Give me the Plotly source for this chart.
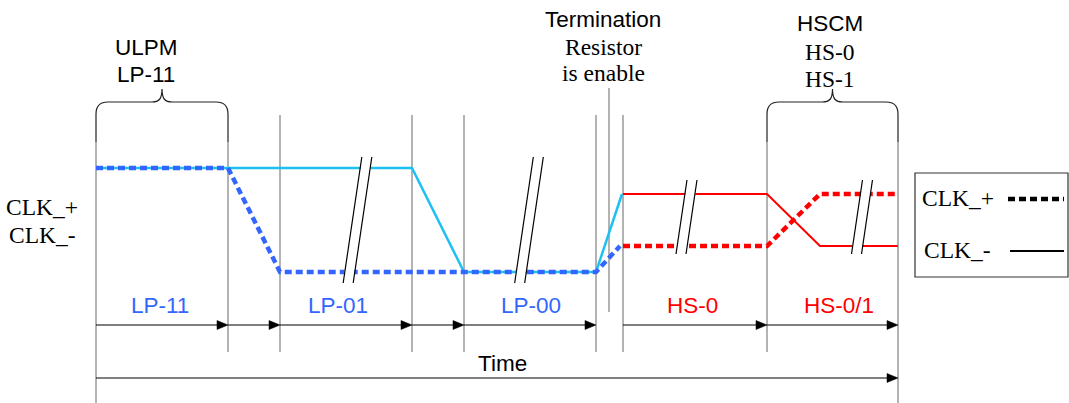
import plotly.graph_objects as go

# ---------------- data ----------------
# time positions (horizontal units) of the state boundaries
state_bounds = [96, 228, 280, 412, 464, 596, 623, 767, 898]
termination_t = 609

# signal traces: time / level (vertical units, top = 0)
cyan_t = [96, 412, 464, 596, 622]
cyan_v = [168, 168, 272, 272, 194]
blue_t = [96, 228, 280, 596, 620]
blue_v = [168, 168, 272, 272, 246]
red_solid_t = [623, 767, 820, 898]
red_solid_v = [194, 194, 246, 246]
red_dash_t = [623, 767, 820, 898]
red_dash_v = [246, 246, 194, 194]

# section labels
section_labels = ["LP-11", "LP-01", "LP-00", "HS-0", "HS-0/1"]
section_label_t = [160, 338, 531, 692, 839]
section_is_hs = [False, False, False, True, True]

# arrow segments on the state row
arrow_start = [96, 228, 280, 412, 464, 623, 767]
arrow_end = [228, 280, 412, 464, 596, 767, 898]

# break marks "//"
break_t = [357.5, 529, 686.5, 862]
break_top = [157, 157, 180, 180]
break_bottom = [283, 283, 254, 254]

# vertical guide lines: time, top, bottom
guide_t = [96, 228, 280, 412, 464, 596, 609, 623, 767, 898]
guide_top = [142, 142, 115, 115, 115, 115, 88, 115, 142, 142]
guide_bottom = [403, 352, 352, 352, 352, 352, 312, 352, 352, 403]

BLUE = "#3366FF"
CYAN = "#1CC0F2"
RED = "#FF0000"
GRAY = "#9A9A9A"
ARIAL = "Arial, Liberation Sans, sans-serif"
TIMES = "Times New Roman, Liberation Serif, serif"
ARIAL_SIZE = 22.5
TIMES_SIZE = 23.5

ROW_Y = 325
TIME_Y = 378
LABEL_Y = 305

fig = go.Figure()

# signals
fig.add_trace(go.Scatter(x=cyan_t, y=cyan_v, mode="lines",
                         line=dict(color=CYAN, width=2.5), hoverinfo="skip"))
fig.add_trace(go.Scatter(x=blue_t, y=blue_v, mode="lines",
                         line=dict(color=BLUE, width=4.5, dash="7px,4px"), hoverinfo="skip"))
fig.add_trace(go.Scatter(x=red_solid_t, y=red_solid_v, mode="lines",
                         line=dict(color=RED, width=2), hoverinfo="skip"))
fig.add_trace(go.Scatter(x=red_dash_t, y=red_dash_v, mode="lines",
                         line=dict(color=RED, width=4.5, dash="7px,4px"), hoverinfo="skip"))

shapes = []

# vertical guide lines
for t, top, bot in zip(guide_t, guide_top, guide_bottom):
    shapes.append(dict(type="line", x0=t, x1=t, y0=top, y1=bot, layer="below",
                       line=dict(color=GRAY, width=1.5)))


def brace(x0, x1, ytop, ypeak, yside):
    xm = (x0 + x1) / 2
    r = 12
    return (f"M {x0},{yside} L {x0},{ytop + r} Q {x0},{ytop} {x0 + r},{ytop} "
            f"L {xm - 10},{ytop} C {xm - 3},{ytop} {xm},{ytop - 3} {xm},{ypeak} "
            f"C {xm},{ytop - 3} {xm + 3},{ytop} {xm + 10},{ytop} "
            f"L {x1 - r},{ytop} Q {x1},{ytop} {x1},{ytop + r} L {x1},{yside}")


shapes.append(dict(type="path", path=brace(96, 228, 102, 89, 142),
                   line=dict(color="#222222", width=1.2)))
shapes.append(dict(type="path", path=brace(767, 898, 102, 89, 142),
                   line=dict(color="#222222", width=1.2)))

# arrows on the state row
for a, b in zip(arrow_start, arrow_end):
    shapes.append(dict(type="line", x0=a, x1=b - 2, y0=ROW_Y, y1=ROW_Y,
                       line=dict(color="black", width=1.2)))
    shapes.append(dict(type="path", path=f"M {b},{ROW_Y} L {b - 11},{ROW_Y - 4.5} L {b - 11},{ROW_Y + 4.5} Z",
                       fillcolor="black", line=dict(color="black", width=0.5)))

# time arrow
t0, t1 = state_bounds[0], state_bounds[-1]
shapes.append(dict(type="line", x0=t0, x1=t1 - 2, y0=TIME_Y, y1=TIME_Y,
                   line=dict(color="black", width=1.2)))
shapes.append(dict(type="path", path=f"M {t1},{TIME_Y} L {t1 - 11},{TIME_Y - 4.5} L {t1 - 11},{TIME_Y + 4.5} Z",
                   fillcolor="black", line=dict(color="black", width=0.5)))

# break marks
SLOPE = 0.148
GAP = 10
for c, top, bot in zip(break_t, break_top, break_bottom):
    mid = (top + bot) / 2
    xl_top = c - GAP / 2 + SLOPE * (mid - top)
    xl_bot = c - GAP / 2 - SLOPE * (bot - mid)
    shapes.append(dict(type="path", layer="above",
                       path=f"M {xl_top},{top + 4} L {xl_top + GAP},{top + 4} L {xl_bot + GAP},{bot - 4} L {xl_bot},{bot - 4} Z",
                       fillcolor="white", line=dict(width=0)))
    for off in (0, GAP):
        shapes.append(dict(type="line", layer="above", x0=xl_top + off, y0=top,
                           x1=xl_bot + off, y1=bot, line=dict(color="black", width=1.2)))

# legend box
shapes.append(dict(type="rect", x0=915, x1=1068, y0=173, y1=277,
                   line=dict(color="#333333", width=1.2), fillcolor="white", layer="below"))
shapes.append(dict(type="line", x0=1008, x1=1064, y0=199, y1=199,
                   line=dict(color="black", width=4.5, dash="7px,4px")))
shapes.append(dict(type="line", x0=1010, x1=1064, y0=251, y1=251,
                   line=dict(color="black", width=2)))

annotations = []


def txt(s, x, y, family, color="black", size=TIMES_SIZE):
    annotations.append(dict(text=s, x=x, y=y, xref="x", yref="y", showarrow=False,
                            xanchor="center", yanchor="middle",
                            font=dict(family=family, size=size, color=color)))


txt("ULPM", 146, 47, ARIAL, size=ARIAL_SIZE)
txt("LP-11", 146, 74, ARIAL, size=ARIAL_SIZE)
txt("Termination", 603, 19, ARIAL, size=ARIAL_SIZE)
txt("Resistor", 603, 47, TIMES)
txt("is enable", 603, 73, TIMES)
txt("HSCM", 830, 23, ARIAL, size=ARIAL_SIZE)
txt("HS-0", 830, 52, TIMES)
txt("HS-1", 830, 79, TIMES)
txt("CLK_+", 42, 207, TIMES)
txt("CLK_-", 42, 235, TIMES)
for lab, t, hs in zip(section_labels, section_label_t, section_is_hs):
    txt(lab, t, LABEL_Y, ARIAL, RED if hs else BLUE, size=ARIAL_SIZE)
txt("Time", 502, 363, ARIAL, size=ARIAL_SIZE)
txt("CLK_+", 958, 198, TIMES)
txt("CLK_-", 957, 250, TIMES)

fig.update_layout(
    width=1069, height=403,
    margin=dict(l=0, r=0, t=0, b=0),
    paper_bgcolor="white", plot_bgcolor="white",
    showlegend=False,
    xaxis=dict(range=[0, 1069], visible=False, fixedrange=True),
    yaxis=dict(range=[403, 0], visible=False, fixedrange=True),
    shapes=shapes, annotations=annotations,
)

fig.write_html("out.html", post_script="document.body.style.margin='0';",
               config={"displayModeBar": False})
